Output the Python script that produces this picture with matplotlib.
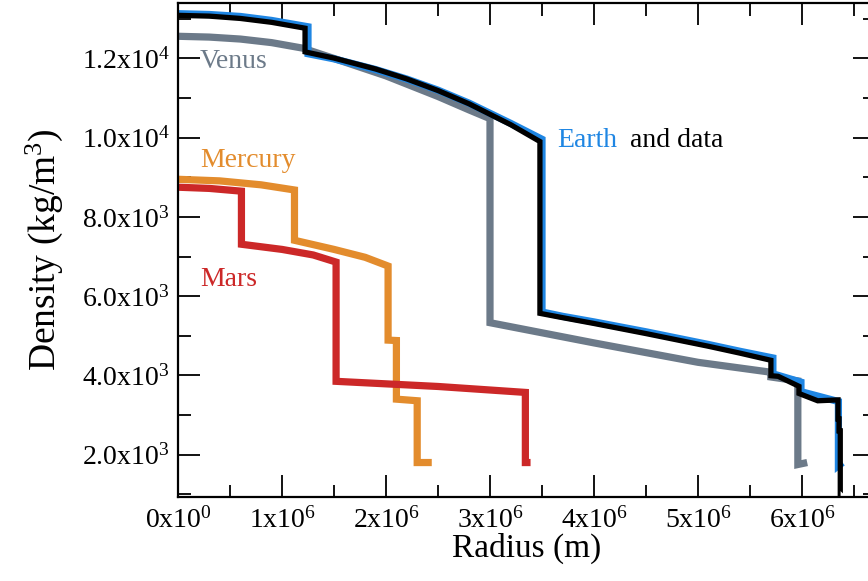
import matplotlib
matplotlib.use("Agg")
import matplotlib.pyplot as plt
from matplotlib.ticker import MultipleLocator, FixedLocator, FixedFormatter

plt.rcParams['font.family'] = ['Liberation Serif', 'DejaVu Serif']
plt.rcParams['mathtext.fontset'] = 'custom'
plt.rcParams['mathtext.rm'] = 'Liberation Serif'
plt.rcParams['mathtext.it'] = 'Liberation Serif:italic'

# ---- data ----
mercury_r = [0, 0.4e6, 0.8e6, 1.12e6, 1.12e6, 1.5e6, 1.8e6, 2.02e6, 2.02e6, 2.10e6, 2.10e6, 2.30e6, 2.30e6, 2.44e6]
mercury_rho = [8950, 8910, 8810, 8680, 7410, 7180, 6980, 6760, 4890, 4880, 3400, 3360, 1800, 1800]

mars_r = [0, 0.3e6, 0.61e6, 0.61e6, 1.0e6, 1.3e6, 1.52e6, 1.52e6, 2.5e6, 3.34e6, 3.34e6, 3.39e6]
mars_rho = [8750, 8720, 8650, 7310, 7180, 7040, 6860, 3850, 3720, 3570, 1800, 1800]

venus_r = [0, 0.3e6, 0.6e6, 0.9e6, 1.2e6, 1.5e6, 2.0e6, 2.5e6, 2.8e6, 3.0e6, 3.0e6, 4.0e6, 5.0e6,
           5.7e6, 5.7e6, 5.96e6, 5.96e6, 6.05e6]
venus_rho = [12560, 12540, 12490, 12400, 12260, 12000, 11560, 11040, 10700, 10480, 5330, 4820, 4330,
             4080, 3960, 3860, 1750, 1800]

earth_r = [0, 0.3e6, 0.6e6, 0.9e6, 1.25e6, 1.25e6, 1.5e6, 1.9e6, 2.2e6, 2.5e6, 2.8e6, 3.2e6, 3.5e6,
           3.5e6, 3.7e6, 4.0e6, 4.5e6, 5.1e6, 5.4e6, 5.72e6,
           5.72e6, 5.99e6, 5.99e6, 6.35e6, 6.35e6, 6.39e6]
earth_rho = [13130, 13110, 13060, 12960, 12800, 12120, 11990, 11720, 11480, 11200, 10870, 10360, 9960,
             5600, 5490, 5350, 5100, 4780, 4610, 4440,
             4040, 3830, 3590, 3340, 1720, 1800]

data_r = [0, 0.3e6, 0.6e6, 0.9e6, 1.2215e6, 1.2215e6, 1.5e6, 1.9e6, 2.2e6, 2.5e6, 2.8e6, 3.2e6, 3.48e6,
          3.48e6, 3.7e6, 4.0e6, 4.5e6, 5.1e6, 5.4e6, 5.701e6, 5.701e6, 5.771e6, 5.971e6, 5.971e6,
          6.151e6, 6.346e6, 6.346e6, 6.356e6, 6.356e6, 6.368e6, 6.368e6, 6.371e6]
data_rho = [13088, 13069, 13010, 12912, 12764, 12166, 12010, 11734, 11483, 11190, 10853, 10327, 9903,
            5566, 5456, 5310, 5055, 4735, 4563, 4381, 3992, 3976, 3724, 3543,
            3359, 3381, 2900, 2900, 2600, 2600, 1020, 1020]

x_ticks = [0, 1e6, 2e6, 3e6, 4e6, 5e6, 6e6]
x_labels = ['0x10$^{0}$', '1x10$^{6}$', '2x10$^{6}$', '3x10$^{6}$', '4x10$^{6}$', '5x10$^{6}$', '6x10$^{6}$']
y_ticks = [2000, 4000, 6000, 8000, 10000, 12000]
y_labels = ['2.0x10$^{3}$', '4.0x10$^{3}$', '6.0x10$^{3}$', '8.0x10$^{3}$', '1.0x10$^{4}$', '1.2x10$^{4}$']

c_earth = '#1f86e3'
c_venus = '#6c7a89'
c_mercury = '#e38c2d'
c_mars = '#cc2828'

fig = plt.figure(figsize=(8.68, 5.81), dpi=100)
ax = fig.add_axes([178/868, 84/581, 696.8/868, 494/581])

kw = dict(solid_joinstyle='miter', solid_capstyle='butt')
ax.plot(mercury_r, mercury_rho, color=c_mercury, lw=5.2, **kw)
ax.plot(mars_r, mars_rho, color=c_mars, lw=5.2, **kw)
ax.plot(venus_r, venus_rho, color=c_venus, lw=5.2, **kw)
ax.plot(earth_r, earth_rho, color=c_earth, lw=5.2, **kw)
ax.plot(data_r, data_rho, color='black', lw=3.8, **kw)

ax.set_xlim(0, 6.7e6)
ax.set_ylim(930, 13400)

ax.xaxis.set_major_locator(FixedLocator(x_ticks))
ax.xaxis.set_major_formatter(FixedFormatter(x_labels))
ax.xaxis.set_minor_locator(MultipleLocator(0.5e6))
ax.yaxis.set_major_locator(FixedLocator(y_ticks))
ax.yaxis.set_major_formatter(FixedFormatter(y_labels))
ax.yaxis.set_minor_locator(MultipleLocator(1000))

ax.tick_params(which='both', direction='in', top=True, right=True, width=1.3, labelsize=20)
ax.tick_params(which='major', length=16)
ax.tick_params(which='minor', length=9)
ax.tick_params(axis='x', pad=7)
ax.tick_params(axis='y', pad=6)
for s in ax.spines.values():
    s.set_linewidth(1.6)

ax.set_xlabel('Radius (m)', fontsize=24, labelpad=0)
ax.set_ylabel('Density (kg/m$^{3}$)', fontsize=27, labelpad=12)

ax.text(0.21e6, 11755, 'Venus', color=c_venus, fontsize=20)
ax.text(0.21e6, 9255, 'Mercury', color=c_mercury, fontsize=20)
ax.text(0.21e6, 6250, 'Mars', color=c_mars, fontsize=20)
ax.text(3.65e6, 9770, 'Earth', color=c_earth, fontsize=20)
ax.text(4.345e6, 9770, 'and data', color='black', fontsize=20)

fig.savefig('out.png', dpi=100)
